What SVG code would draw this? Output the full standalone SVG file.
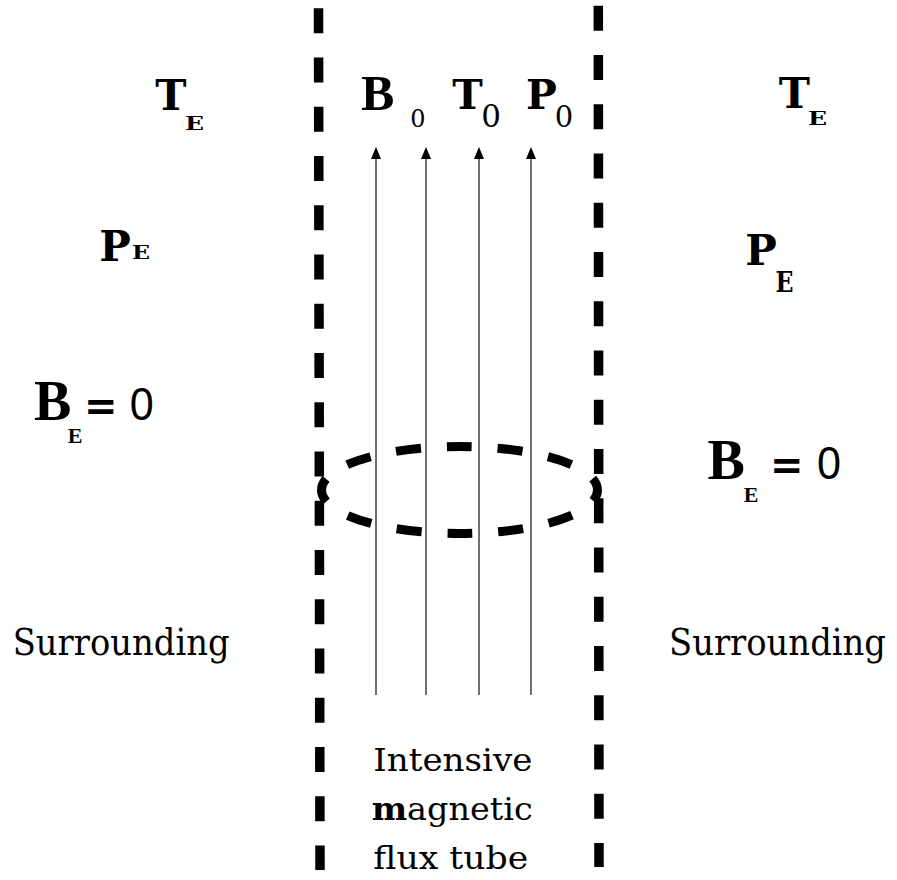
<svg xmlns="http://www.w3.org/2000/svg" width="897" height="880" viewBox="0 0 897 880">
<style>
.ser{font-family:"DejaVu Serif","Liberation Serif",serif;fill:#000}
.var{font-family:"DejaVu Serif","Liberation Serif",serif;font-weight:bold;fill:#000;text-anchor:middle}
.sub{font-family:"DejaVu Serif","Liberation Serif",serif;font-weight:bold;fill:#000}
.mid{text-anchor:middle}
.bold{font-family:"Liberation Serif","Times New Roman",serif;font-weight:bold;fill:#000}
.eq{font-family:"DejaVu Sans","Liberation Sans",sans-serif;font-weight:bold;fill:#000}
.sans{font-family:"Liberation Sans",Arial,sans-serif;fill:#000}
.wall{stroke:#000;stroke-width:9.5;stroke-dasharray:25 24.25;fill:none}
.field{stroke:#222;stroke-width:1.3;fill:none}
.head{fill:#000}
</style>
<rect width="897" height="880" fill="#fff"/>
<g id="walls">
<line class="wall" x1="318.5" y1="8.3" x2="320" y2="870"/>
<line class="wall" x1="598.3" y1="5.7" x2="599" y2="867"/>
</g>
<g id="cross-section">
<ellipse cx="459.5" cy="490" rx="138" ry="43.5" fill="none" stroke="#000" stroke-width="9" stroke-dasharray="25 25.8" stroke-dashoffset="13"/>
</g>
<g id="connectors">
<path class="field" d="M376,695 V159"/>
<path class="field" d="M426,695 V159"/>
<path class="field" d="M479,695 V159"/>
<path class="field" d="M531,695 V159"/>
<path class="head" d="M371,159 L376,147 L381,159 Z"/>
<path class="head" d="M421,159 L426,147 L431,159 Z"/>
<path class="head" d="M474,159 L479,147 L484,159 Z"/>
<path class="head" d="M526,159 L531,147 L536,159 Z"/>
</g>
<g id="tube-params">
<text class="bold" x="361" y="110" font-size="50">B</text>
<text class="ser mid" x="418" y="126.5" font-size="24">0</text>
<text class="var" x="467.5" y="109" font-size="41">T</text>
<text class="ser mid" x="491" y="126.5" font-size="31">0</text>
<text class="var" x="541.5" y="109" font-size="41">P</text>
<text class="ser mid" x="564" y="126.5" font-size="29">0</text>
</g>
<g id="left-surrounding">
<text class="var" x="171" y="110" font-size="42">T</text>
<text class="sub" x="185" y="130" font-size="19" textLength="19" lengthAdjust="spacingAndGlyphs">E</text>
<text class="var" x="115" y="261" font-size="42">P</text>
<text class="sub" x="132" y="259" font-size="19" textLength="18" lengthAdjust="spacingAndGlyphs">E</text>
<text class="bold" x="34" y="420" font-size="56">B</text>
<text class="bold mid" x="75" y="442.7" font-size="22">E</text>
<text class="eq" x="84" y="420" font-size="40">=</text>
<text class="sans mid" x="141.7" y="420" font-size="47" textLength="24" lengthAdjust="spacingAndGlyphs">0</text>
<text class="ser" x="12.7" y="655" font-size="37" textLength="217" lengthAdjust="spacingAndGlyphs">Surrounding</text>
</g>
<g id="right-surrounding">
<text class="var" x="794.5" y="108" font-size="42">T</text>
<text class="sub" x="808" y="125" font-size="19" textLength="19" lengthAdjust="spacingAndGlyphs">E</text>
<text class="var" x="761" y="265" font-size="42">P</text>
<text class="sub" x="775.5" y="291.7" font-size="27" textLength="18" lengthAdjust="spacingAndGlyphs">E</text>
<text class="bold" x="707.5" y="479" font-size="56">B</text>
<text class="bold mid" x="751" y="501.7" font-size="22">E</text>
<text class="eq" x="770" y="479" font-size="40">=</text>
<text class="sans mid" x="829" y="479.3" font-size="47" textLength="24" lengthAdjust="spacingAndGlyphs">0</text>
<text class="ser" x="669" y="655" font-size="37" textLength="217" lengthAdjust="spacingAndGlyphs">Surrounding</text>
</g>
<g id="tube-label">
<text class="ser" x="373.3" y="770.7" font-size="32" textLength="159" lengthAdjust="spacingAndGlyphs">Intensive</text>
<text class="ser" x="371.7" y="820" font-size="32" textLength="161" lengthAdjust="spacingAndGlyphs"><tspan font-weight="bold">m</tspan>agnetic</text>
<text class="ser" x="373.3" y="869.3" font-size="32" textLength="155" lengthAdjust="spacingAndGlyphs">flux tube</text>
</g>
</svg>
